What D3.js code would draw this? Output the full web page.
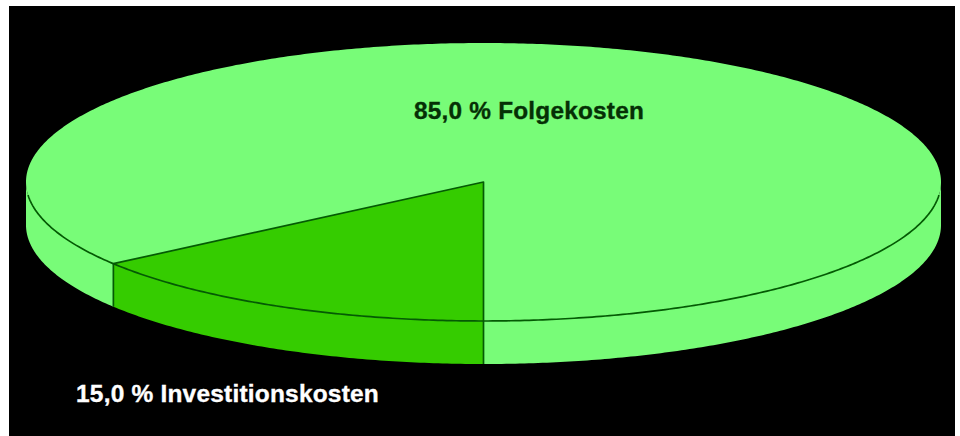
<!DOCTYPE html>
<html>
<head>
<meta charset="utf-8">
<script src="https://cdn.jsdelivr.net/npm/d3@7"></script>
<style>
html,body{margin:0;padding:0;background:#fff}
svg{display:block}
text{font-family:"Liberation Sans",Arial,sans-serif;font-weight:bold;letter-spacing:.2px;stroke-width:.35px}
</style>
</head>
<body>
<svg id="chart" width="960" height="436"></svg>
<script>
const categories = ["Investitionskosten", "Folgekosten"];
const values = [15.0, 85.0];
const labels = ["15,0 % Investitionskosten", "85,0 % Folgekosten"];
const fills = ["#35cc00", "#78fc78"];
const labelColors = ["#ffffff", "#053005"];

const frame = {x: 9, y: 6, w: 946, h: 430};
const cx = 483.5, cy = 182, rx = 457.5, ry = 139, depth = 43;
const stroke = "#045a04";
const strokeW = 1.7;

const svg = d3.select("#chart");
svg.append("rect").attr("x", frame.x).attr("y", frame.y).attr("width", frame.w).attr("height", frame.h).attr("fill", "#000");

const sx = d3.scaleLinear().domain([-1, 1]).range([cx - rx, cx + rx]);
const sy = d3.scaleLinear().domain([-1, 1]).range([cy - ry, cy + ry]);
const px = a => sx(Math.sin(a));
const py = a => sy(-Math.cos(a));

const pie = d3.pie().sort(null).value(d => d).startAngle(Math.PI).endAngle(3 * Math.PI);
const arcs = pie(values);
const g = svg.append("g");

function arcPoints(a0, a1, dy) {
  const n = Math.max(2, Math.ceil(Math.abs(a1 - a0) / 0.01));
  return d3.range(n + 1).map(i => {
    const a = a0 + (a1 - a0) * i / n;
    return [px(a), py(a) + dy];
  });
}
const line = d3.line();

// Side wall: the part of each slice facing the viewer
const front = [[Math.PI / 2, 3 * Math.PI / 2], [5 * Math.PI / 2, 7 * Math.PI / 2]];
arcs.forEach((d, i) => {
  front.forEach(([f0, f1]) => {
    const a0 = Math.max(d.startAngle, f0), a1 = Math.min(d.endAngle, f1);
    if (a1 <= a0) return;
    const top = arcPoints(a0, a1, 0), bot = arcPoints(a1, a0, depth);
    g.append("path").attr("d", line(top.concat(bot)) + "Z")
      .attr("fill", fills[i]).attr("stroke", "none");
  });
});

// Top faces
arcs.forEach((d, i) => {
  const pts = [[cx, cy]].concat(arcPoints(d.startAngle, d.endAngle, 0));
  g.append("path").attr("d", line(pts) + "Z").attr("fill", fills[i]).attr("stroke", "none");
});

const edge = sel => sel.attr("fill", "none").attr("stroke", stroke).attr("stroke-width", strokeW).attr("stroke-linejoin", "round");

// Front rim of the top face (the rest of the outline melts into the black ground)
edge(g.append("path").attr("d", line(arcPoints(Math.PI * 0.53, Math.PI * 1.47, 0))));

// Slice radii
const a1 = arcs[0].endAngle, a0 = arcs[0].startAngle;
edge(g.append("path").attr("d", line([[px(a1), py(a1)], [cx, cy], [px(a0), py(a0)]])));

// Vertical slice edges on the wall
[a0, a1].forEach(a => {
  edge(g.append("path").attr("d", line([[px(a), py(a)], [px(a), py(a) + depth]])));
});

// Labels: the originals are horizontally stretched bold sans, so fit to the measured width
svg.append("text").attr("x", 414).attr("y", 119).attr("font-size", 23.5)
  .attr("textLength", 230).attr("lengthAdjust", "spacingAndGlyphs")
  .attr("fill", labelColors[1]).attr("stroke", labelColors[1]).text(labels[1]);
svg.append("text").attr("x", 76).attr("y", 402).attr("font-size", 23.5)
  .attr("textLength", 303).attr("lengthAdjust", "spacingAndGlyphs")
  .attr("fill", labelColors[0]).attr("stroke", labelColors[0]).text(labels[0]);
</script>
</body>
</html>
